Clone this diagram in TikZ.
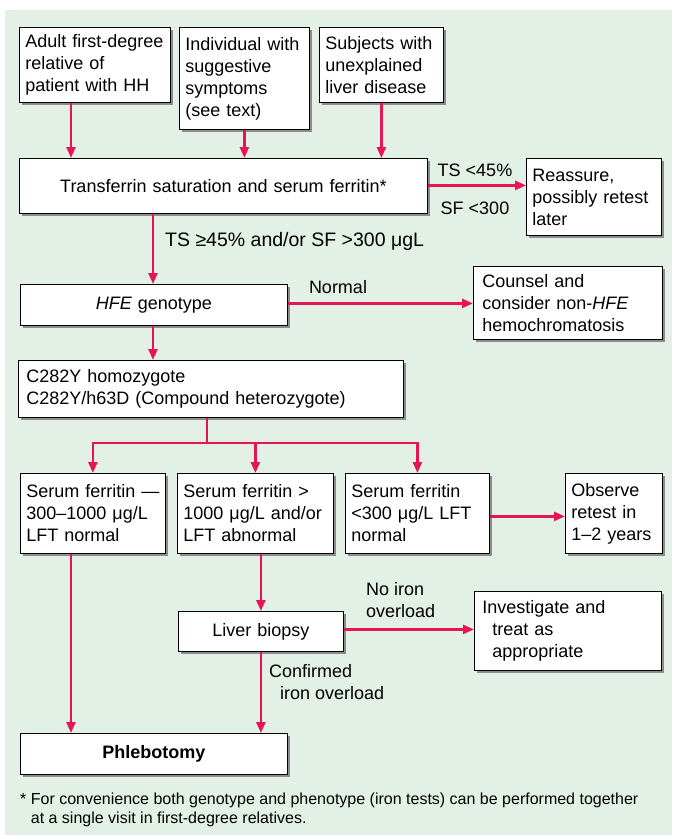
\documentclass[tikz,border=0pt]{standalone}
\usepackage{fontspec}
\setmainfont{Liberation Sans}
\usetikzlibrary{arrows.meta,shadows}
\definecolor{bgmint}{RGB}{226,240,230}
\definecolor{flowred}{RGB}{230,22,84}
\newcommand\flowfont{\fontsize{18}{22}\selectfont}
\newcommand\notefont{\fontsize{16}{19}\selectfont}
\begin{document}
\begin{tikzpicture}[x=1pt,y=-1pt,
  box/.style={draw=black, line width=0.8pt, fill=white, inner xsep=6pt, inner ysep=0pt,
    align=left, anchor=north west, font=\flowfont,
    drop shadow={shadow xshift=3pt,shadow yshift=-3pt,fill=black!45,opacity=1}},
  arr/.style={draw=flowred, line width=2.4pt, -{Triangle[length=11pt,width=9pt]}},
  link/.style={draw=flowred, line width=2.4pt},
  lbl/.style={font=\flowfont, inner sep=0pt, align=left}]
\useasboundingbox (0,0) rectangle (672,835);
\fill[bgmint] (5,10) rectangle (672,835);

% entry points
\node[box, minimum width=151pt, minimum height=75pt, text width=139pt] (A) at (19,27)
  {Adult first-degree\\relative of\\patient with HH};
\node[box, minimum width=130pt, minimum height=102pt, text width=118pt] (B) at (179,27)
  {Individual with\\suggestive\\symptoms\\(see text)};
\node[box, minimum width=124pt, minimum height=75pt, text width=112pt] (C) at (319,27)
  {Subjects with\\unexplained\\liver disease};

% iron tests
\node[box, minimum width=408pt, minimum height=55pt, text width=396pt, align=center] (T) at (19,158)
  {Transferrin saturation and serum ferritin*};
\node[box, minimum width=135pt, minimum height=77pt, text width=123pt] (R) at (526,158)
  {Reassure,\\possibly retest\\later};

% genotype
\node[box, minimum width=267pt, minimum height=41pt, text width=255pt, align=center] (H) at (20,284)
  {\textit{HFE} genotype};
\node[box, minimum width=189pt, minimum height=73pt, text width=171pt, inner xsep=9pt] (K) at (473,266)
  {Counsel and\\consider non-\textit{HFE}\\hemochromatosis};
\node[box, minimum width=385pt, minimum height=57pt, text width=369pt, inner xsep=8pt] (Z) at (18,360)
  {C282Y homozygote\\C282Y/h63D (Compound heterozygote)};

% phenotype branches
\node[box, minimum width=145pt, minimum height=80pt, text width=133pt] (S1) at (20,473)
  {\makebox[120pt][l]{Serum ferritin ---}\\300--1000 μg/L\\LFT normal};
\node[box, minimum width=156pt, minimum height=80pt, text width=144pt] (S2) at (177,473)
  {Serum ferritin >\\1000 μg/L and/or\\LFT abnormal};
\node[box, minimum width=144pt, minimum height=80pt, text width=132pt] (S3) at (345,473)
  {Serum ferritin\\<300 μg/L LFT\\normal};
\node[box, minimum width=97pt, minimum height=80pt, text width=85pt] (O) at (565,473)
  {Observe\\retest in\\1--2 years};

% biopsy and treatment
\node[box, minimum width=165pt, minimum height=40pt, text width=153pt, align=center] (L) at (178,611)
  {Liver biopsy};
\node[box, minimum width=187pt, minimum height=79pt, text width=171pt, inner xsep=8pt] (I) at (474,591)
  {Investigate and\\\hspace*{10pt}treat as\\\hspace*{10pt}appropriate};
\node[box, minimum width=267pt, minimum height=41pt, text width=255pt, align=center] (P) at (20,733)
  {\textbf{Phlebotomy}};

% connectors
\draw[arr] ([xshift=52pt]A.south west) -- ([xshift=52pt]A.south west |- T.north);
\draw[arr] (B.south) -- (B.south |- T.north);
\draw[arr] (C.south) -- (C.south |- T.north);
\draw[arr] ([yshift=0.5pt]T.east) -- ([yshift=0.5pt]T.east -| R.west);
\draw[arr] ([xshift=134pt]T.south west) -- ([xshift=134pt]T.south west |- H.north);
\draw[arr] ([yshift=1.5pt]H.east) -- ([yshift=1.5pt]H.east -| K.west);
\draw[arr] ([xshift=133pt]H.south west) -- ([xshift=133pt]H.south west |- Z.north);

\coordinate (br) at (207,443);
\coordinate (j1) at (S1.north |- br);
\coordinate (j2) at (S2.north |- br);
\coordinate (j3) at (S3.north |- br);
\draw[link] (Z.south -| br) -- (br);
\draw[link, line cap=rect] (j1) -- (j3);
\draw[arr] (j1) -- (S1.north);
\draw[arr] (j2) -- (S2.north);
\draw[arr] (j3) -- (S3.north);
\draw[arr] ([yshift=-3pt]S3.east) -- ([yshift=-3pt]S3.east -| O.west);

\draw[arr] ([xshift=51pt]S1.south west) -- ([xshift=51pt]S1.south west |- P.north);
\draw[arr] (L.north |- S2.south) -- (L.north);
\draw[arr] (L.south) -- (L.south |- P.north);
\draw[arr] ([yshift=2pt]L.east) -- ([yshift=2pt]L.east -| I.west);

% connector labels
\node[lbl] (lts) at (475,170) {TS <45\%};
\node[lbl] (lsf) at (475,208) {SF <300};
\node[lbl, anchor=west, font=\fontsize{19.5}{22}\selectfont] (lhi) at (165,241) {TS ≥45\% and/or SF >300 μgL};
\node[lbl] (lnorm) at (338,287) {Normal};
\node[lbl, anchor=north west] (lnoiron) at (366,582) {No iron\\overload};
\node[lbl, anchor=north west] (lconf) at (269,664) {Confirmed\\\hspace*{11pt}iron overload};

% footnote
\node[lbl, font=\notefont, anchor=north west] (note) at (20,793)
  {* For convenience both genotype and phenotype (iron tests) can be performed together\\
   \phantom{* }at a single visit in first-degree relatives.};
\end{tikzpicture}
\end{document}
